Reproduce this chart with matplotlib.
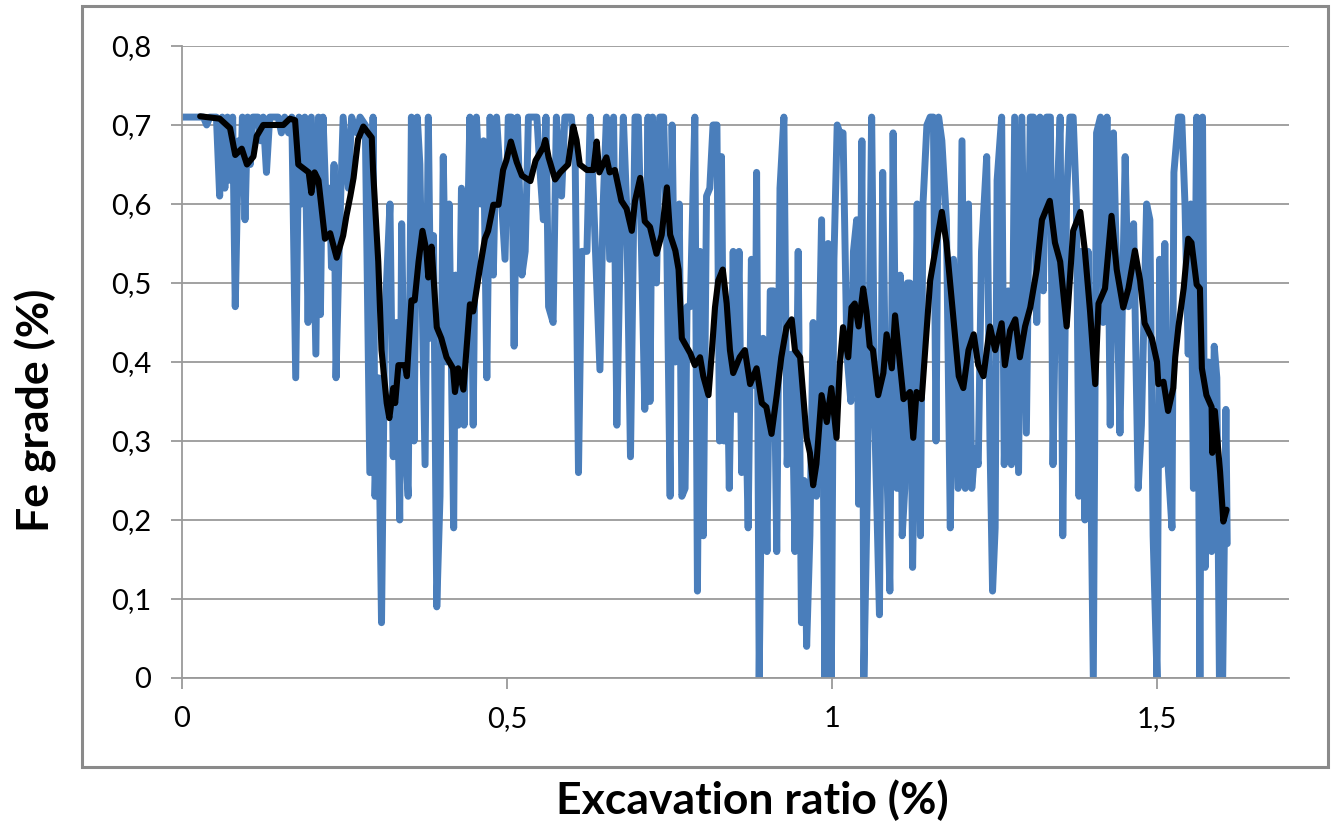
import matplotlib
matplotlib.use("Agg")
import matplotlib.pyplot as plt
from matplotlib.patches import Rectangle

plt.rcParams['font.family'] = ['Lato', 'DejaVu Sans']

# raw Fe grade readings (x = excavation ratio, y = grade)
blue_pts = [
    (0.000,0.71),(0.033,0.71),(0.038,0.70),(0.043,0.71),(0.053,0.71),(0.058,0.61),(0.062,0.71),
    (0.066,0.62),(0.070,0.71),(0.074,0.63),(0.078,0.71),(0.082,0.47),(0.087,0.68),(0.090,0.62),
    (0.093,0.71),(0.097,0.58),(0.101,0.71),(0.105,0.65),(0.109,0.71),(0.117,0.71),(0.121,0.68),
    (0.125,0.71),(0.130,0.64),(0.135,0.71),(0.148,0.71),(0.153,0.69),(0.158,0.71),(0.164,0.69),
    (0.169,0.71),(0.175,0.38),(0.180,0.71),(0.184,0.60),(0.189,0.71),(0.194,0.45),(0.199,0.71),
    (0.206,0.41),(0.210,0.71),(0.213,0.46),(0.217,0.71),(0.223,0.57),(0.227,0.62),(0.230,0.52),
    (0.234,0.65),(0.237,0.38),(0.242,0.55),(0.248,0.71),
    (0.256,0.62),(0.261,0.71),(0.269,0.69),(0.274,0.71),(0.282,0.70),(0.289,0.26),(0.294,0.71),
    (0.297,0.23),(0.302,0.38),(0.307,0.07),(0.312,0.45),(0.320,0.60),(0.325,0.28),(0.330,0.45),
    (0.335,0.20),(0.338,0.575),(0.343,0.30),(0.348,0.23),(0.353,0.71),(0.357,0.30),(0.362,0.71),
    (0.366,0.65),(0.374,0.27),(0.379,0.71),(0.383,0.43),(0.387,0.56),(0.392,0.09),(0.397,0.23),
    (0.402,0.66),(0.407,0.40),(0.411,0.60),(0.418,0.19),(0.421,0.51),(0.425,0.32),(0.430,0.62),
    (0.434,0.32),(0.438,0.51),(0.443,0.71),(0.448,0.32),(0.453,0.71),(0.459,0.60),(0.464,0.68),
    (0.469,0.38),(0.474,0.71),(0.479,0.51),(0.484,0.71),(0.492,0.60),(0.497,0.53),(0.502,0.71),
    (0.507,0.71),(0.511,0.42),(0.516,0.71),(0.523,0.51),(0.528,0.54),(0.533,0.71),(0.546,0.71),
    (0.551,0.64),(0.556,0.58),(0.560,0.71),(0.564,0.47),(0.571,0.45),(0.576,0.71),(0.584,0.61),
    (0.589,0.71),(0.599,0.71),(0.605,0.65),(0.610,0.26),(0.615,0.54),(0.623,0.54),(0.628,0.71),
    (0.633,0.61),(0.643,0.39),(0.648,0.60),(0.653,0.71),(0.658,0.53),(0.664,0.71),(0.669,0.32),
    (0.674,0.54),(0.679,0.71),(0.684,0.60),(0.690,0.28),(0.697,0.71),(0.702,0.71),(0.707,0.54),
    (0.712,0.34),(0.717,0.71),(0.720,0.35),(0.724,0.71),(0.730,0.50),(0.735,0.71),(0.741,0.71),
    (0.746,0.54),(0.751,0.23),(0.754,0.70),(0.759,0.40),(0.765,0.60),(0.769,0.23),(0.774,0.24),
    (0.777,0.47),
    (0.782,0.47),(0.789,0.71),(0.793,0.11),(0.797,0.54),(0.802,0.18),(0.807,0.61),(0.812,0.62),
    (0.817,0.70),(0.823,0.70),(0.827,0.30),(0.830,0.66),(0.834,0.30),(0.838,0.45),(0.842,0.24),
    (0.848,0.54),(0.852,0.34),(0.857,0.54),(0.861,0.26),(0.866,0.40),(0.871,0.19),(0.876,0.53),
    (0.882,0.37),(0.884,0.64),(0.888,0.00),(0.894,0.43),(0.900,0.16),(0.905,0.49),(0.910,0.49),
    (0.915,0.16),(0.920,0.62),(0.926,0.71),(0.931,0.27),(0.938,0.41),(0.943,0.16),(0.948,0.54),
    (0.953,0.07),(0.957,0.25),(0.961,0.04),(0.966,0.18),(0.971,0.45),(0.976,0.23),(0.984,0.58),
    (0.989,0.00),(0.994,0.55),(0.999,0.00),(1.003,0.53),(1.008,0.70),(1.012,0.69),(1.017,0.69),
    (1.023,0.41),(1.029,0.35),(1.033,0.54),(1.038,0.58),
    (1.041,0.22),(1.046,0.68),(1.049,0.00),(1.054,0.22),(1.061,0.71),(1.066,0.32),(1.073,0.08),
    (1.078,0.64),(1.083,0.32),(1.089,0.11),(1.094,0.69),(1.100,0.24),(1.105,0.51),(1.108,0.18),
    (1.112,0.24),(1.116,0.50),(1.120,0.50),(1.124,0.14),(1.128,0.36),(1.131,0.60),(1.136,0.18),
    (1.140,0.60),(1.146,0.70),(1.151,0.71),(1.156,0.71),(1.160,0.30),(1.164,0.71),(1.169,0.68),
    (1.176,0.58),(1.182,0.19),(1.187,0.53),(1.194,0.24),(1.200,0.68),(1.205,0.24),(1.210,0.60),
    (1.215,0.24),(1.220,0.29),(1.225,0.27),(1.230,0.54),(1.238,0.66),(1.243,0.30),(1.247,0.11),
    (1.251,0.19),(1.254,0.63),(1.261,0.71),(1.265,0.27),(1.271,0.49),(1.276,0.27),(1.281,0.71),
    (1.287,0.26),(1.292,0.71),
    (1.299,0.31),(1.305,0.71),(1.310,0.71),(1.315,0.45),(1.320,0.71),(1.325,0.49),(1.330,0.71),
    (1.336,0.71),(1.340,0.27),(1.346,0.60),(1.351,0.71),(1.355,0.18),(1.361,0.61),(1.366,0.71),
    (1.371,0.71),(1.376,0.60),(1.380,0.23),(1.384,0.54),(1.389,0.20),(1.394,0.54),(1.402,0.00),
    (1.407,0.69),(1.413,0.71),(1.417,0.45),(1.423,0.71),(1.428,0.32),(1.433,0.69),(1.438,0.51),
    (1.443,0.31),(1.451,0.66),(1.456,0.47),(1.464,0.575),(1.471,0.24),(1.476,0.32),(1.484,0.60),
    (1.489,0.58),(1.494,0.18),(1.500,0.00),(1.504,0.53),(1.507,0.27),(1.512,0.55),(1.517,0.27),
    (1.523,0.19),(1.526,0.64),(1.533,0.71),(1.538,0.71),(1.543,0.60),(1.548,0.41),(1.552,0.60),
    (1.556,0.24),(1.561,0.71),
    (1.566,0.00),(1.570,0.71),(1.574,0.14),(1.579,0.40),(1.584,0.16),(1.588,0.42),(1.592,0.38),
    (1.596,0.00),(1.601,0.00),(1.606,0.34),(1.608,0.17),
]

# smoothed trend (black line)
black_pts = [
    (0.028,0.711),(0.058,0.708),(0.074,0.696),(0.082,0.662),(0.092,0.670),(0.100,0.650),
    (0.110,0.660),(0.115,0.686),(0.125,0.700),(0.156,0.700),(0.166,0.708),(0.174,0.706),
    (0.179,0.650),(0.187,0.645),(0.195,0.640),(0.199,0.614),(0.204,0.640),(0.210,0.630),
    (0.220,0.556),(0.228,0.563),(0.238,0.532),(0.248,0.560),(0.253,0.585),(0.259,0.610),
    (0.264,0.633),(0.271,0.682),(0.279,0.698),(0.292,0.684),(0.294,0.643),(0.302,0.527),
    (0.307,0.415),(0.315,0.348),(0.319,0.329),(0.325,0.367),(0.328,0.348),(0.333,0.396),
    (0.343,0.396),(0.346,0.382),(0.353,0.478),(0.358,0.478),(0.364,0.527),(0.370,0.566),
    (0.376,0.541),(0.379,0.507),(0.384,0.546),(0.392,0.444),(0.399,0.430),(0.407,0.406),
    (0.417,0.392),(0.420,0.362),(0.425,0.392),(0.433,0.365),(0.443,0.473),(0.448,0.464),
    (0.458,0.517),(0.466,0.556),(0.471,0.566),(0.479,0.599),(0.487,0.599),(0.494,0.643),
    (0.499,0.655),(0.506,0.679),(0.512,0.662),(0.515,0.653),(0.523,0.636),(0.536,0.629),
    (0.544,0.655),(0.556,0.672),(0.559,0.681),(0.564,0.659),(0.574,0.631),(0.582,0.640),
    (0.594,0.650),(0.602,0.698),(0.607,0.681),(0.612,0.650),(0.623,0.643),(0.633,0.643),
    (0.638,0.679),(0.642,0.640),(0.653,0.659),(0.658,0.640),(0.666,0.643),(0.676,0.604),
    (0.684,0.594),(0.692,0.566),(0.697,0.604),(0.705,0.633),(0.712,0.578),(0.720,0.571),
    (0.730,0.537),(0.738,0.561),(0.746,0.621),(0.751,0.561),(0.759,0.541),(0.764,0.517),
    (0.769,0.430),(0.782,0.411),(0.789,0.396),(0.797,0.406),(0.802,0.382),(0.810,0.358),
    (0.815,0.411),(0.820,0.469),(0.825,0.503),(0.832,0.517),(0.838,0.474),(0.843,0.415),
    (0.848,0.386),(0.858,0.406),(0.866,0.415),(0.874,0.372),(0.884,0.392),(0.892,0.348),
    (0.899,0.343),(0.907,0.309),(0.915,0.358),(0.922,0.406),(0.930,0.444),(0.938,0.454),
    (0.943,0.415),(0.951,0.406),(0.961,0.304),(0.966,0.285),(0.971,0.244),(0.976,0.271),
    (0.984,0.358),(0.992,0.324),(0.999,0.367),(1.007,0.304),(1.012,0.396),(1.017,0.444),
    (1.025,0.406),(1.030,0.469),(1.035,0.474),(1.041,0.445),(1.048,0.493),(1.053,0.464),
    (1.058,0.420),(1.063,0.415),(1.071,0.358),(1.079,0.386),(1.084,0.435),(1.092,0.392),
    (1.097,0.459),(1.110,0.353),(1.120,0.362),(1.125,0.304),(1.130,0.362),(1.138,0.353),
    (1.151,0.503),(1.161,0.551),(1.169,0.590),(1.176,0.551),(1.187,0.454),(1.195,0.382),
    (1.202,0.367),(1.210,0.415),(1.218,0.435),(1.225,0.396),(1.233,0.382),(1.243,0.445),
    (1.251,0.415),(1.261,0.449),(1.266,0.396),(1.274,0.440),(1.282,0.454),(1.289,0.406),
    (1.297,0.445),(1.305,0.469),(1.315,0.517),(1.323,0.580),(1.335,0.604),(1.343,0.551),
    (1.351,0.527),(1.361,0.445),(1.371,0.566),(1.382,0.590),(1.389,0.541),(1.397,0.464),
    (1.405,0.372),(1.410,0.474),(1.420,0.493),(1.430,0.585),(1.438,0.517),(1.448,0.469),
    (1.456,0.493),(1.466,0.541),(1.474,0.503),(1.481,0.449),(1.492,0.430),(1.500,0.400),
    (1.502,0.372),(1.510,0.375),(1.517,0.338),(1.525,0.367),(1.528,0.406),(1.533,0.445),
    (1.541,0.493),(1.548,0.556),(1.553,0.551),(1.561,0.498),(1.566,0.493),(1.569,0.392),
    (1.576,0.358),(1.584,0.343),(1.585,0.285),(1.589,0.338),(1.597,0.261),(1.602,0.198),
    (1.607,0.213),
]

xticks = [0, 0.5, 1, 1.5]
xtick_labels = ['0', '0,5', '1', '1,5']
yticks = [0, 0.1, 0.2, 0.3, 0.4, 0.5, 0.6, 0.7, 0.8]
ytick_labels = ['0', '0,1', '0,2', '0,3', '0,4', '0,5', '0,6', '0,7', '0,8']

blue_x, blue_y = zip(*blue_pts)
black_x, black_y = zip(*black_pts)

fig = plt.figure(figsize=(13.32, 8.24), dpi=100)
ax = fig.add_axes([0.1366, 0.1772, 0.8311, 0.767])

ax.plot(blue_x, blue_y, color='#4A7EBB', lw=5.0, solid_joinstyle='round',
        solid_capstyle='round', zorder=2)
ax.plot(black_x, black_y, color='black', lw=4.4, solid_joinstyle='round',
        solid_capstyle='round', zorder=3)

ax.set_xlim(0, 1.703)
ax.set_ylim(0, 0.8)
ax.set_xticks(xticks)
ax.set_xticklabels(xtick_labels)
ax.set_yticks(yticks)
ax.set_yticklabels(ytick_labels)

ax.grid(axis='y', color='#9a9a9a', lw=1.3, zorder=0)
ax.set_axisbelow(True)
for s in ['top', 'right']:
    ax.spines[s].set_visible(False)
for s in ['left', 'bottom']:
    ax.spines[s].set_color('#9a9a9a')
    ax.spines[s].set_linewidth(1.3)
ax.tick_params(axis='both', direction='out', color='#9a9a9a', width=1.3,
               length=8, labelsize=21, colors='black')
ax.tick_params(axis='y', pad=14)
ax.tick_params(axis='x', pad=12)
for t in ax.get_xticklines() + ax.get_yticklines():
    t.set_color('#9a9a9a')

fig.text(0.5646, 0.029, 'Excavation ratio (%)', ha='center', va='center',
         fontsize=32, fontweight='bold')
fig.text(0.027, 0.502, 'Fe grade (%)', ha='center', va='center', rotation=90,
         fontsize=32, fontweight='bold')

fig.add_artist(Rectangle((0.0616, 0.0692), 0.9354, 0.9235, transform=fig.transFigure,
                         fill=False, ec='#8a8a8a', lw=2.2))

fig.savefig('out.png', dpi=100)
